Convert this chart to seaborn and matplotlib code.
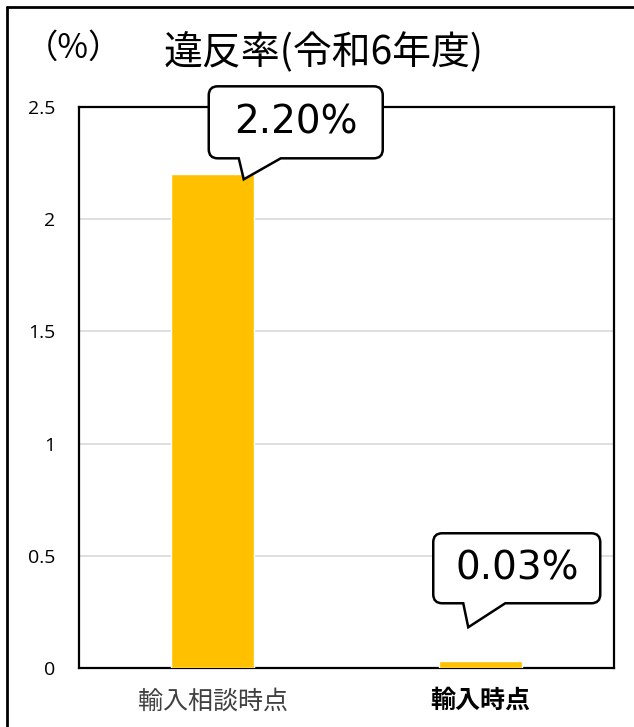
import matplotlib
matplotlib.use("Agg")
import matplotlib.pyplot as plt
import seaborn as sns
import pandas as pd
import numpy as np
from matplotlib.path import Path
from matplotlib.patches import PathPatch
from matplotlib.transforms import IdentityTransform

categories = ["輸入相談時点", "輸入時点"]
values = [2.20, 0.03]
value_labels = ["2.20%", "0.03%"]
yticks = [0, 0.5, 1, 1.5, 2, 2.5]
ytick_labels = ["0", "0.5", "1", "1.5", "2", "2.5"]
title = "違反率(令和6年度)"
unit = "（%）"

sns.set_theme(style="white")
plt.rcParams["font.family"] = ["Noto Sans CJK JP", "DejaVu Sans"]
plt.rcParams["text.color"] = "black"

W, H = 634, 727
fig = plt.figure(figsize=(W / 100, H / 100), dpi=100)
ax = fig.add_axes([79 / W, 1 - 668 / H, (614 - 79) / W, (668 - 107) / H])

df = pd.DataFrame({"cat": categories, "val": values})
sns.barplot(data=df, x="cat", y="val", color="#FFC000", saturation=1,
            width=0.31, ax=ax, zorder=3)
ax.set_ylim(0, 2.5)
ax.set_xlim(-0.5, 1.5)
ax.set_yticks(yticks)
ax.set_yticklabels(ytick_labels, fontsize=14, color="#000000",
                   family=["Open Sans", "DejaVu Sans"])
ax.set_xlabel("")
ax.set_ylabel("")
ax.yaxis.grid(True, color="#d9d9d9", linewidth=1.2, zorder=0)
ax.set_axisbelow(True)
for s in ax.spines.values():
    s.set_visible(True)
    s.set_color("black")
    s.set_linewidth(1.6)
ax.tick_params(axis="y", length=0, pad=17)
ax.tick_params(axis="x", length=0, pad=15)
ax.set_xticks(range(len(categories)))
labels = ax.set_xticklabels(categories, fontsize=18)
labels[0].set_color("#404040")
labels[1].set_color("#000000")
labels[1].set_fontweight("bold")

# title and unit
fig.text(324 / W, 1 - 53 / H, title, ha="center", va="center", fontsize=28,
         color="black")
fig.text(74 / W, 1 - 48 / H, unit, ha="center", va="center", fontsize=24,
         color="black")

# outer border (left and top)
fig.add_artist(plt.Line2D([7 / W, 7 / W], [0, 1 - 7 / H], color="black",
                          linewidth=2, transform=fig.transFigure))
fig.add_artist(plt.Line2D([7 / W, 1], [1 - 7 / H, 1 - 7 / H], color="black",
                          linewidth=2, transform=fig.transFigure))

fig.canvas.draw()

# callouts: (tip dx from bar center, tip dy from bar top in px (down +),
#            box left, right, top, bottom relative to tip, base x0, x1)
callouts = [
    (31, 5, -35, 139, -93, -21, -5, 37),
    (-12, -34, -35, 132, -94, -24, -5, 37),
]


def rounded_callout(tx, ty, L, R, T, B, b0, b1, r=9):
    pts = []
    codes = []

    def P(x, y):
        return (tx + x, ty - y)

    x0, x1, y0, y1 = L, R, T, B
    pts.append(P(x0 + r, y0)); codes.append(Path.MOVETO)
    pts.append(P(x1 - r, y0)); codes.append(Path.LINETO)
    pts += [P(x1, y0), P(x1, y0 + r)]; codes += [Path.CURVE3, Path.CURVE3]
    pts.append(P(x1, y1 - r)); codes.append(Path.LINETO)
    pts += [P(x1, y1), P(x1 - r, y1)]; codes += [Path.CURVE3, Path.CURVE3]
    pts.append(P(b1, y1)); codes.append(Path.LINETO)
    pts.append(P(0, 0)); codes.append(Path.LINETO)
    pts.append(P(b0, y1)); codes.append(Path.LINETO)
    pts.append(P(x0 + r, y1)); codes.append(Path.LINETO)
    pts += [P(x0, y1), P(x0, y1 - r)]; codes += [Path.CURVE3, Path.CURVE3]
    pts.append(P(x0, y0 + r)); codes.append(Path.LINETO)
    pts += [P(x0, y0), P(x0 + r, y0)]; codes += [Path.CURVE3, Path.CURVE3]
    pts.append(P(x0 + r, y0)); codes.append(Path.CLOSEPOLY)
    return Path(pts, codes)


for i, (v, lab, c) in enumerate(zip(values, value_labels, callouts)):
    dx, dy, L, R, T, B, b0, b1 = c
    bx, by = ax.transData.transform((i, v))
    tx, ty = bx + dx, by - dy
    path = rounded_callout(tx, ty, L, R, T, B, b0, b1)
    patch = PathPatch(path, facecolor="white", edgecolor="black",
                      linewidth=1.8, transform=IdentityTransform(), zorder=10)
    fig.add_artist(patch)
    cx = tx + (L + R) / 2
    cy = ty - (T + B) / 2
    fig.text(cx / W, cy / H, lab, ha="center", va="center", fontsize=28,
             family=["DejaVu Sans"], color="black", zorder=11)

fig.savefig("out.png", dpi=100)
